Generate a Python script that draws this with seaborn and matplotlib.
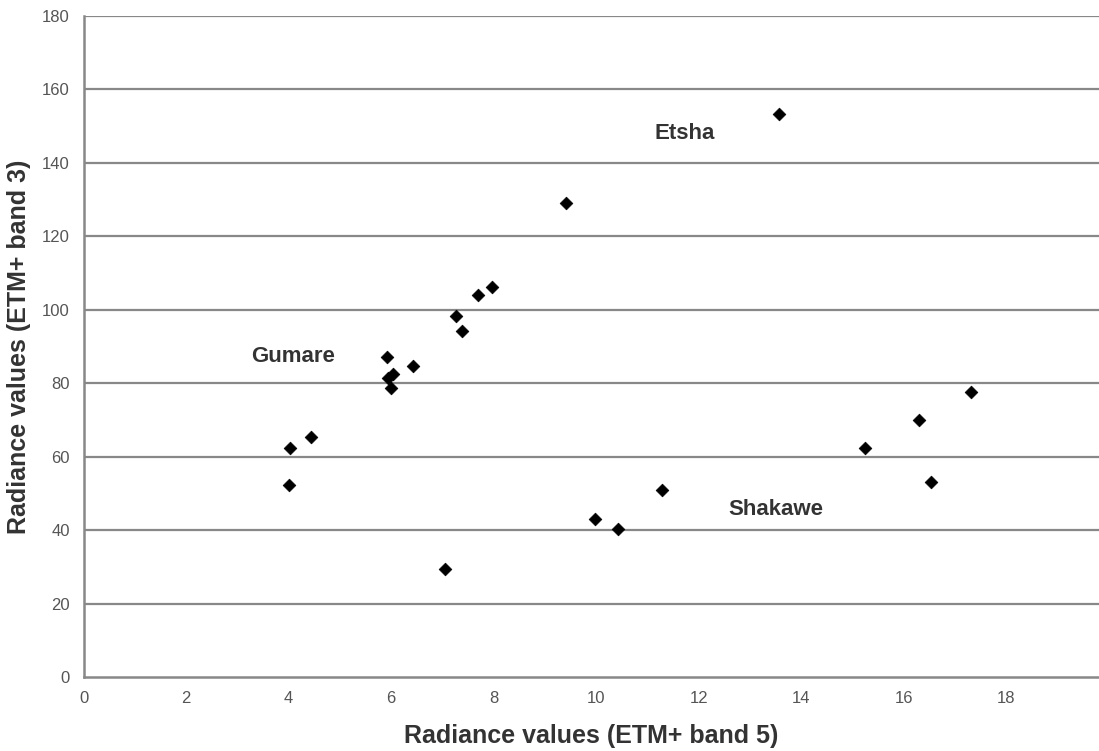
import matplotlib
matplotlib.use("Agg")
import matplotlib.pyplot as plt
import seaborn as sns
import pandas as pd

# значения
band5 = [4.01, 4.03, 4.44, 5.92, 6.43, 6.04, 5.94, 6.00, 7.27, 7.39, 7.70, 7.97,
         9.41, 13.57, 7.06, 9.97, 10.42, 11.29, 15.25, 16.29, 16.54, 17.32]
band3 = [52.2, 62.3, 65.3, 87.0, 84.8, 82.4, 81.3, 78.6, 98.4, 94.3, 104.1, 106.3,
         128.9, 153.3, 29.5, 43.0, 40.3, 50.8, 62.4, 70.0, 53.1, 77.5]

site_names = ["Gumare", "Etsha", "Shakawe"]
site_x = [4.09, 11.72, 13.51]
site_y = [87.3, 147.9, 45.6]

y_ticks = list(range(0, 181, 20))
x_ticks = list(range(0, 19, 2))

df = pd.DataFrame({"band5": band5, "band3": band3})

sns.set_style("white")
plt.rcParams["font.family"] = ["Liberation Sans", "DejaVu Sans"]

fig = plt.figure(figsize=(10.99, 7.51), dpi=100)
ax = fig.add_axes([0.076, 0.0985, 0.924, 0.8805])

grid_col = "#888888"
for yt in y_ticks[1:]:
    ax.axhline(yt, color=grid_col, lw=1.6, zorder=1)

sns.scatterplot(data=df, x="band5", y="band3", marker="D", s=42,
                color="black", edgecolor="black", linewidth=0.5, ax=ax, zorder=3)

for name, xx, yy in zip(site_names, site_x, site_y):
    ax.text(xx, yy, name, ha="center", va="center", fontsize=16,
            fontweight="bold", color="#333333")

ax.set_xlim(0, 19.81)
ax.set_ylim(0, 180)
ax.set_xticks(x_ticks)
ax.set_yticks(y_ticks)
ax.tick_params(axis="both", direction="out", length=4, width=1.2, color=grid_col,
               labelsize=12, labelcolor="#555555", pad=6)

for side in ["top", "right"]:
    ax.spines[side].set_visible(False)
for side in ["left", "bottom"]:
    ax.spines[side].set_color(grid_col)
    ax.spines[side].set_linewidth(1.8)

ax.set_xlabel("Radiance values (ETM+ band 5)", fontsize=18, fontweight="bold",
              color="#333333", labelpad=13)
ax.set_ylabel("Radiance values (ETM+ band 3)", fontsize=18, fontweight="bold",
              color="#333333", labelpad=8)

fig.savefig("out.png", dpi=100)
